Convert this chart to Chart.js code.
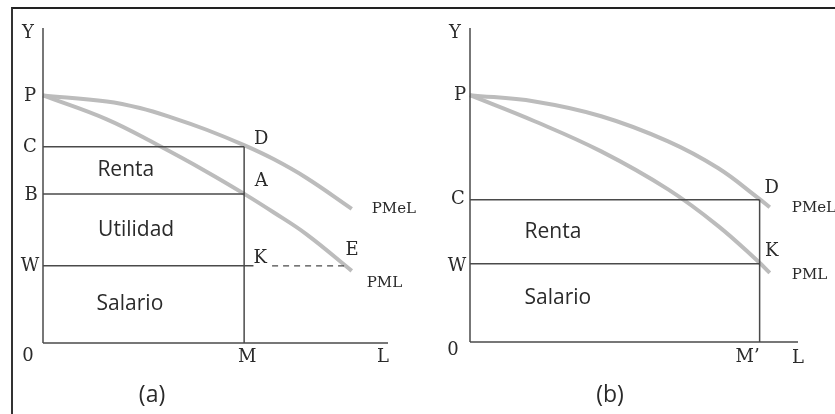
<!DOCTYPE html>
<html>
<head>
<meta charset="utf-8">
<script src="https://cdn.jsdelivr.net/npm/chart.js@4"></script>
<style>
  html, body { margin: 0; padding: 0; background: #fff; }
  #wrap { position: relative; width: 835px; height: 414px; overflow: hidden; }
  #frame { position: absolute; left: 11px; top: 7px; right: 0; bottom: -5px;
           border-top: 2px solid #222; border-left: 2px solid #333; }
  canvas { position: absolute; top: 0; }
  #ca { left: 0; }
  #cb { left: 417px; }
</style>
</head>
<body>
<div id="wrap">
  <div id="frame"></div>
  <canvas id="ca" width="417" height="414"></canvas>
  <canvas id="cb" width="418" height="414"></canvas>
</div>
<script>
// ---- panel (a) ----
const levelsA = { P: 78.6, C: 62.3, B: 47.3, W: 24.5 };
const mA = 58.3;       // M
const kEndA = 61;      // end of solid W line
const dashA = [66.4, 88.4];  // dashed K..E
const pmelA = [[0, 78.6], [18.5, 76.7], [28.1, 74.6], [37.8, 71.4], [47.4, 67.7], [58.1, 62.9], [66.8, 58.4], [76.4, 52.4], [89.5, 42.6]];
const pmlA = [[0, 78.6], [18.5, 71.0], [33, 63.0], [47.4, 54.4], [58.1, 47.5], [66.8, 41.5], [76.4, 34.5], [89.5, 22.9]];

// ---- panel (b) ----
const levelsB = { P: 78.6, C: 45.3, W: 24.9 };
const mB = 88.3;       // M'
const pmelB = [[0, 78.6], [19.7, 76.6], [40, 71.9], [60.4, 63.9], [75.6, 55.4], [87.8, 45.9], [91.4, 42.9]];
const pmlB = [[0, 78.6], [19.7, 70.3], [40, 60.7], [60.4, 48.6], [75.6, 37.0], [87.8, 25.7], [91.4, 22.0]];

const SERIF = '"DejaVu Serif", "Liberation Serif", serif';
const SANS = '"Open Sans", "Noto Sans", sans-serif';
const INK = "#2a2a2a";
const LINE = "#4a4a4a";
const CURVE = "#bcbcbc";

function pts(arr) {
  return arr.map(p => ({ x: p[0], y: p[1] }));
}

function seg(x1, y1, x2, y2, extra) {
  return Object.assign({
    data: [{ x: x1, y: y1 }, { x: x2, y: y2 }],
    borderColor: LINE,
    borderWidth: 1.5,
    showLine: true,
    pointRadius: 0,
    clip: false,
  }, extra || {});
}

function curve(arr) {
  return {
    data: pts(arr),
    borderColor: CURVE,
    borderWidth: 4,
    showLine: true,
    pointRadius: 0,
    tension: 0.4,
    clip: false,
  };
}

// draws letters at data anchors, shifted by a few pixels
const labelPlugin = {
  id: "labels",
  afterDatasetsDraw(chart, args, opts) {
    const ctx = chart.ctx;
    const sx = chart.scales.x, sy = chart.scales.y;
    ctx.save();
    ctx.fillStyle = INK;
    opts.items.forEach(it => {
      ctx.font = it.font;
      ctx.textAlign = it.align || "center";
      ctx.textBaseline = "middle";
      const px = sx.getPixelForValue(it.x) + (it.dx || 0);
      const py = sy.getPixelForValue(it.y) + (it.dy || 0);
      ctx.fillText(it.text, px, py);
    });
    ctx.restore();
  },
};

function makeChart(el, datasets, items, padding) {
  return new Chart(el.getContext("2d"), {
    type: "scatter",
    data: { datasets },
    options: {
      responsive: false,
      animation: false,
      events: [],
      layout: { padding },
      plugins: {
        legend: { display: false },
        tooltip: { enabled: false },
        labels: { items },
      },
      scales: {
        x: { type: "linear", min: 0, max: 100, display: false },
        y: { type: "linear", min: 0, max: 100, display: false },
      },
    },
    plugins: [labelPlugin],
  });
}

const big = "18px " + SERIF;
const small = "15px " + SERIF;
const word = "21px " + SANS;

makeChart(document.getElementById("ca"), [
  seg(0, 0, 0, 100),
  seg(0, 0, 100, 0),
  seg(0, levelsA.C, mA, levelsA.C),
  seg(0, levelsA.B, mA, levelsA.B),
  seg(0, levelsA.W, kEndA, levelsA.W),
  seg(mA, 0, mA, levelsA.C),
  seg(dashA[0], levelsA.W, dashA[1], levelsA.W, { borderDash: [6, 5], borderWidth: 1.3 }),
  curve(pmelA),
  curve(pmlA),
], [
  { text: "Y", x: 0, y: 100, dx: -15, dy: 5, font: big },
  { text: "P", x: 0, y: levelsA.P, dx: -13, dy: 1, font: big },
  { text: "C", x: 0, y: levelsA.C, dx: -13, dy: 1, font: big },
  { text: "B", x: 0, y: levelsA.B, dx: -12, dy: 1, font: big },
  { text: "W", x: 0, y: levelsA.W, dx: -13, dy: 1, font: big },
  { text: "0", x: 0, y: 0, dx: -15, dy: 13, font: big },
  { text: "M", x: mA, y: 0, dx: 3, dy: 14, font: big },
  { text: "L", x: 100, y: 0, dx: -5, dy: 14, font: big },
  { text: "D", x: mA, y: levelsA.C, dx: 17, dy: -7, font: big },
  { text: "A", x: mA, y: levelsA.B, dx: 17, dy: -13, font: big },
  { text: "K", x: mA, y: levelsA.W, dx: 16, dy: -7, font: big },
  { text: "E", x: dashA[1], y: levelsA.W, dx: 4, dy: -15, font: big },
  { text: "PMeL", x: pmelA[pmelA.length - 1][0], y: pmelA[pmelA.length - 1][1], dx: 20, dy: 0, font: small, align: "left" },
  { text: "PML", x: pmlA[pmlA.length - 1][0], y: pmlA[pmlA.length - 1][1], dx: 15, dy: 12, font: small, align: "left" },
  { text: "Renta", x: 24, y: (levelsA.C + levelsA.B) / 2, font: word },
  { text: "Utilidad", x: 27, y: (levelsA.B + levelsA.W) / 2, font: word },
  { text: "Salario", x: 25.2, y: levelsA.W / 2, font: word },
  { text: "(a)", x: 31.6, y: 0, dy: 52, font: "23px " + SANS },
], { left: 43, right: 29, top: 28, bottom: 71 });

makeChart(document.getElementById("cb"), [
  seg(0, 0, 0, 100),
  seg(0, 0, 100, 0),
  seg(0, levelsB.C, mB, levelsB.C),
  seg(0, levelsB.W, mB, levelsB.W),
  seg(mB, 0, mB, levelsB.C),
  curve(pmelB),
  curve(pmlB),
], [
  { text: "Y", x: 0, y: 100, dx: -15, dy: 5, font: big },
  { text: "P", x: 0, y: levelsB.P, dx: -10, dy: 0, font: big },
  { text: "C", x: 0, y: levelsB.C, dx: -12, dy: 0, font: big },
  { text: "W", x: 0, y: levelsB.W, dx: -13, dy: 3, font: big },
  { text: "0", x: 0, y: 0, dx: -17, dy: 8, font: big },
  { text: "M\u2019", x: mB, y: 0, dx: -12, dy: 15, font: big },
  { text: "L", x: 100, y: 0, dx: 0, dy: 16, font: big },
  { text: "D", x: mB, y: levelsB.C, dx: 12, dy: -11, font: big },
  { text: "K", x: mB, y: levelsB.W, dx: 12, dy: -12, font: big },
  { text: "PMeL", x: pmelB[pmelB.length - 1][0], y: pmelB[pmelB.length - 1][1], dx: 22, dy: 1, font: small, align: "left" },
  { text: "PML", x: pmlB[pmlB.length - 1][0], y: pmlB[pmlB.length - 1][1], dx: 22, dy: 2, font: small, align: "left" },
  { text: "Renta", x: 25.3, y: (levelsB.C + levelsB.W) / 2, font: word },
  { text: "Salario", x: 26.8, y: levelsB.W / 2, dy: -5, font: word },
  { text: "(b)", x: 42.7, y: 0, dy: 53, font: "23px " + SANS },
], { left: 53, right: 37, top: 28, bottom: 72 });
</script>
</body>
</html>
